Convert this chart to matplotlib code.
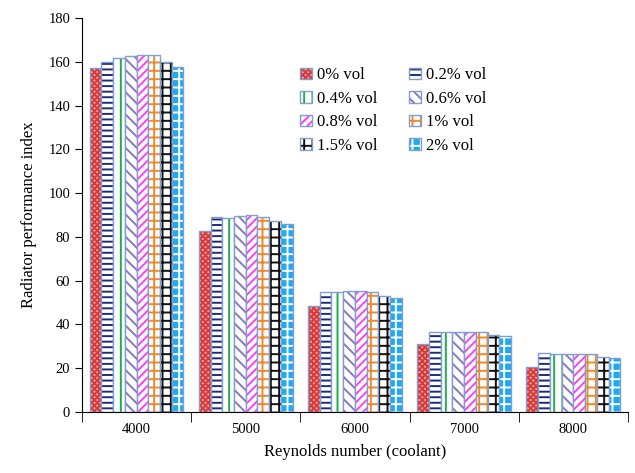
import matplotlib.pyplot as plt
import numpy as np

plt.rcParams['font.family'] = ['Liberation Serif', 'DejaVu Serif']
plt.rcParams['hatch.linewidth'] = 1.4

# Radiator performance index per Reynolds number and nanofluid concentration
reynolds = ["4000", "5000", "6000", "7000", "8000"]
series = ["0% vol", "0.2% vol", "0.4% vol", "0.6% vol",
          "0.8% vol", "1% vol", "1.5% vol", "2% vol"]
vol_0 = [157.2, 82.8, 48.6, 31.0, 20.6]
vol_02 = [160.0, 89.0, 54.8, 36.7, 26.8]
vol_04 = [161.6, 88.8, 54.7, 36.6, 26.6]
vol_06 = [162.8, 89.4, 55.1, 36.6, 26.5]
vol_08 = [163.1, 89.8, 55.3, 36.6, 26.3]
vol_1 = [163.3, 89.3, 54.9, 36.5, 26.3]
vol_15 = [159.8, 87.2, 53.1, 35.3, 25.0]
vol_2 = [157.8, 85.8, 52.3, 34.7, 24.5]
values = [vol_0, vol_02, vol_04, vol_06, vol_08, vol_1, vol_15, vol_2]

# (face colour, hatch, hatch colour) for each concentration
styles = [
    ("#f2a6a6", "xxxxxx", "#d83a3a"),
    ("white", "---", "#1f2a78"),
    ("white", "||", "#1fae4a"),
    ("white", "\\\\\\", "#8a78b8"),
    ("white", "////", "#ff3cff"),
    ("white", "++", "#ef8a2c"),
    ("white", "++", "#111111"),
    ("#1eaaf0", "++", "white"),
]
edge = "#7f9fd2"

fig, ax = plt.subplots(figsize=(6.35, 4.73), dpi=100)
fig.subplots_adjust(left=0.129, right=0.989, bottom=0.129, top=0.962)

x = np.arange(len(reynolds))
n = len(series)
w = 0.86 / n
handles = []
for i, (vals, (fc, hatch, hc)) in enumerate(zip(values, styles)):
    pos = x - 0.43 + w * (i + 0.5)
    ax.bar(pos, vals, w, color=fc, hatch=hatch, edgecolor=hc, linewidth=0)
    ax.bar(pos, vals, w, color="none", edgecolor=edge, linewidth=1.0)
    fill = plt.Rectangle((0, 0), 1, 1, facecolor=fc, hatch=hatch,
                         edgecolor=hc, linewidth=0)
    border = plt.Rectangle((0, 0), 1, 1, facecolor="none",
                           edgecolor=edge, linewidth=1.0)
    handles.append((fill, border))

ax.set_xlim(-0.5, len(reynolds) - 0.5)
ax.set_ylim(0, 180)
ax.set_yticks(range(0, 181, 20))
ax.set_xticks(x)
ax.set_xticklabels(reynolds)
ax.set_xticks(np.arange(-0.5, len(reynolds)), minor=True)
ax.tick_params(axis='x', which='major', length=0, labelsize=10.5, pad=8)
ax.tick_params(axis='x', which='minor', length=7, direction='out')
ax.tick_params(axis='y', length=5, direction='out', labelsize=10.5)
ax.spines['top'].set_visible(False)
ax.spines['right'].set_visible(False)
ax.set_xlabel("Reynolds number (coolant)", fontsize=12, labelpad=6)
ax.set_ylabel("Radiator performance index", fontsize=12, labelpad=8)

# legend fills row by row: reorder for column-major layout
order = [0, 2, 4, 6, 1, 3, 5, 7]
ax.legend([handles[k] for k in order], [series[k] for k in order],
          ncol=2, frameon=False, fontsize=12, loc='upper left',
          bbox_to_anchor=(0.372, 0.913), handlelength=0.7, handleheight=0.7,
          handletextpad=0.3, columnspacing=1.9, labelspacing=0.45)

plt.savefig("out.png", dpi=100)
